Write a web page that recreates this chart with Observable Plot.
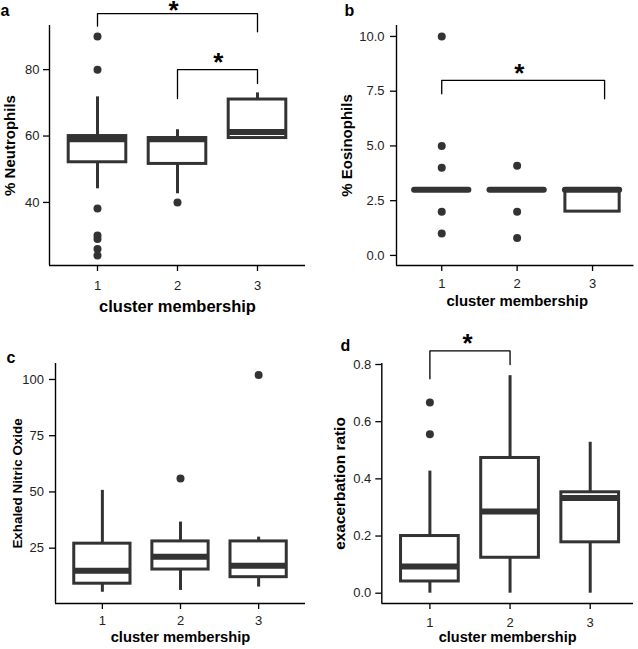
<!DOCTYPE html>
<html><head><meta charset="utf-8">
<script src="https://cdn.jsdelivr.net/npm/d3@7"></script>
<script src="https://cdn.jsdelivr.net/npm/@observablehq/plot@0.6"></script>
<style>
body{margin:0;background:#fff;}
#fig{position:relative;width:638px;height:649px;overflow:hidden;background:#fff;}
.panel{position:absolute;}
</style></head><body><div id="fig"></div>
<script>
const clusters = [1, 2, 3];
const xTickValues = [1, 2, 3];
const xTitle = "cluster membership";

// panel a: % Neutrophils
const neutQ1 = [52.1, 51.6, 59.4];
const neutMedian = [59.0, 59.0, 61.2];
const neutQ3 = [60.0, 59.4, 71.0];
const neutLow = [44.1, 42.6, 59.4];
const neutHigh = [71.8, 61.9, 73.0];
const neutOutlierCluster = [1, 1, 1, 1, 1, 1, 1, 2];
const neutOutlierValue = [90, 80, 38.2, 30, 29, 26, 24, 40];
const neutTicks = [40, 60, 80];
const neutBrackets = [
  {from: 1, to: 3, top: 96.9, leftEnd: 93.1, rightEnd: 91.4},
  {from: 2, to: 3, top: 80.0, leftEnd: 71.3, rightEnd: 75.8}
];
const neutStars = [{x: 1.95, y: 99.0}, {x: 2.51, y: 83.2}];

// panel b: % Eosinophils
const eosQ1 = [3, 3, 2];
const eosMedian = [3, 3, 3];
const eosQ3 = [3, 3, 3.03];
const eosLow = [3, 3, 2];
const eosHigh = [3, 3, 3.03];
const eosOutlierCluster = [1, 1, 1, 1, 1, 2, 2, 2];
const eosOutlierValue = [10, 5, 4, 2, 1, 4.1, 2, 0.8];
const eosTicks = [0, 2.5, 5, 7.5, 10];
const eosBrackets = [{from: 1, to: 3.16, top: 7.99, leftEnd: 7.38, rightEnd: 7.15}];
const eosStars = [{x: 2.03, y: 8.45}];

// panel c: Exhaled Nitric Oxide
const enoQ1 = [9.2, 15.5, 12.1];
const enoMedian = [15.0, 21.2, 17.2];
const enoQ3 = [27.0, 28.0, 28.0];
const enoLow = [5.4, 6.2, 7.7];
const enoHigh = [50.7, 36.6, 29.9];
const enoOutlierCluster = [2, 3];
const enoOutlierValue = [56, 102];
const enoTicks = [25, 50, 75, 100];

// panel d: exacerbation ratio
const exaQ1 = [0.041, 0.124, 0.178];
const exaMedian = [0.093, 0.286, 0.333];
const exaQ3 = [0.200, 0.473, 0.353];
const exaLow = [0, 0, 0];
const exaHigh = [0.427, 0.761, 0.528];
const exaOutlierCluster = [1, 1];
const exaOutlierValue = [0.667, 0.556];
const exaTicks = [0, 0.2, 0.4, 0.6, 0.8];
const exaBrackets = [{from: 1, to: 2, top: 0.848, leftEnd: 0.75, rightEnd: 0.80}];
const exaStars = [{x: 1.47, y: 0.886}];

const INK = "#333";
const HW = 0.36;

function panel(cfg) {
  const rows = clusters.map((c, i) => ({c, q1: cfg.q1[i], med: cfg.med[i], q3: cfg.q3[i], lo: cfg.lo[i], hi: cfg.hi[i]}));
  const outs = cfg.outC.map((c, i) => ({c, v: cfg.outV[i]}));
  const pts = (cfg.brackets || []).flatMap((b, k) => [
    {k, x: b.from, y: b.leftEnd}, {k, x: b.from, y: b.top},
    {k, x: b.to, y: b.top}, {k, x: b.to, y: b.rightEnd}
  ]);
  const boxes = rows.filter(d => d.q3 - d.q1 > 0.001 * (cfg.yDomain[1] - cfg.yDomain[0]));
  return Plot.plot({
    width: cfg.width, height: cfg.height,
    marginLeft: cfg.ml, marginRight: cfg.mr, marginTop: cfg.mt, marginBottom: cfg.mb,
    x: {domain: cfg.xDomain, axis: null},
    y: {domain: cfg.yDomain, axis: null},
    style: {fontFamily: "'Liberation Sans', Arial, sans-serif", color: "#222", background: "transparent", overflow: "visible"},
    marks: [
      Plot.ruleX(rows, {x: "c", y1: "lo", y2: "q1", stroke: INK, strokeWidth: 3}),
      Plot.ruleX(rows, {x: "c", y1: "q3", y2: "hi", stroke: INK, strokeWidth: 3}),
      Plot.rect(boxes, {x1: d => d.c - HW, x2: d => d.c + HW, y1: "q1", y2: "q3", fill: "white", stroke: INK, strokeWidth: 3}),
      Plot.ruleY(rows, {x1: d => d.c - HW, x2: d => d.c + HW, y: "med", stroke: INK, strokeWidth: 6, strokeLinecap: cfg.cap || "butt"}),
      Plot.dot(outs, {x: "c", y: "v", r: 4, fill: INK, stroke: null}),
      Plot.line(pts, {x: "x", y: "y", z: "k", stroke: "black", strokeWidth: 1.3}),
      Plot.text(cfg.stars || [], {x: "x", y: "y", text: () => "*", fontSize: 26, fontWeight: "bold", fill: "black", lineAnchor: "bottom", dy: 12}),
      Plot.axisX({ticks: xTickValues, tickSize: 6, tickPadding: cfg.xPad, fontSize: 13, label: null, stroke: "black", strokeWidth: 1.3, tickFormat: d3.format("d")}),
      Plot.axisY({ticks: cfg.yTicks, tickSize: 6, tickPadding: cfg.yPad, fontSize: 13, label: null, stroke: "black", strokeWidth: 1.3, tickFormat: cfg.fmt}),
      Plot.ruleX([cfg.xDomain[0]], {stroke: "black", strokeWidth: 1.4}),
      Plot.ruleY([cfg.yDomain[0]], {stroke: "black", strokeWidth: 1.4}),
      Plot.text([xTitle], {frameAnchor: "bottom", textAnchor: "middle", lineAnchor: "bottom", dy: cfg.xTitleDy, dx: cfg.xTitleDx || 0, fontSize: cfg.xTitleSize, fontWeight: "bold", fill: "black"}),
      Plot.text([cfg.yTitle], {frameAnchor: "left", textAnchor: "middle", lineAnchor: "middle", dx: cfg.yTitleDx, rotate: -90, fontSize: cfg.yTitleSize, fontWeight: "bold", fill: "black"}),
      Plot.text([cfg.letter], {frameAnchor: "top-left", textAnchor: "start", lineAnchor: "bottom", dx: cfg.letterDx, dy: cfg.letterDy, fontSize: 16, fontWeight: "bold", fill: "black"})
    ]
  });
}

const panels = [
  {left: 0, top: 0, width: 319, height: 324, ml: 49, mr: 14, mt: 25, mb: 59,
   xDomain: [0.4, 3.6], yDomain: [21, 93.3], yTicks: neutTicks, fmt: d3.format("d"),
   q1: neutQ1, med: neutMedian, q3: neutQ3, lo: neutLow, hi: neutHigh,
   outC: neutOutlierCluster, outV: neutOutlierValue, brackets: neutBrackets, stars: neutStars,
   xPad: 9, yPad: 4, xTitleDy: 46, xTitleSize: 16.5, yTitle: "% Neutrophils", yTitleDx: -39.5, yTitleSize: 15,
   letter: "a", letterDx: -49, letterDy: -10},
  {left: 319, top: 0, width: 319, height: 324, ml: 77, mr: 4.5, mt: 25, mb: 59,
   xDomain: [0.4, 3.55], yDomain: [-0.46, 10.5], yTicks: eosTicks, fmt: d3.format(".1f"),
   q1: eosQ1, med: eosMedian, q3: eosQ3, lo: eosLow, hi: eosHigh,
   outC: eosOutlierCluster, outV: eosOutlierValue, brackets: eosBrackets, stars: eosStars, cap: "round",
   xPad: 7, yPad: 6, xTitleDy: 40, xTitleDx: 2, xTitleSize: 14.9, yTitle: "% Eosinophils", yTitleDx: -49, yTitleSize: 15,
   letter: "b", letterDx: -52, letterDy: -10},
  {left: 0, top: 324, width: 319, height: 325, ml: 55, mr: 14, mt: 39, mb: 46,
   xDomain: [0.4, 3.6], yDomain: [0.4, 107.1], yTicks: enoTicks, fmt: d3.format("d"),
   q1: enoQ1, med: enoMedian, q3: enoQ3, lo: enoLow, hi: enoHigh,
   outC: enoOutlierCluster, outV: enoOutlierValue, brackets: [], stars: [],
   xPad: 6, yPad: 5.5, xTitleDy: 38, xTitleSize: 14.7, yTitle: "Exhaled Nitric Oxide", yTitleDx: -38, yTitleSize: 13.4,
   letter: "c", letterDx: -49, letterDy: -1},
  {left: 319, top: 324, width: 319, height: 325, ml: 62.3, mr: 5, mt: 39, mb: 46,
   xDomain: [0.4, 3.54], yDomain: [-0.036, 0.8035], yTicks: exaTicks, fmt: d3.format(".1f"),
   q1: exaQ1, med: exaMedian, q3: exaQ3, lo: exaLow, hi: exaHigh,
   outC: exaOutlierCluster, outV: exaOutlierValue, brackets: exaBrackets, stars: exaStars,
   xPad: 8, yPad: 4.5, xTitleDy: 38, xTitleSize: 14.5, yTitle: "exacerbation ratio", yTitleDx: -42, yTitleSize: 15.4,
   letter: "d", letterDx: -41.3, letterDy: -13}
];

const fig = document.getElementById("fig");
for (const p of panels) {
  const div = document.createElement("div");
  div.className = "panel";
  div.style.left = p.left + "px";
  div.style.top = p.top + "px";
  div.appendChild(panel(p));
  fig.appendChild(div);
}
</script></body></html>
